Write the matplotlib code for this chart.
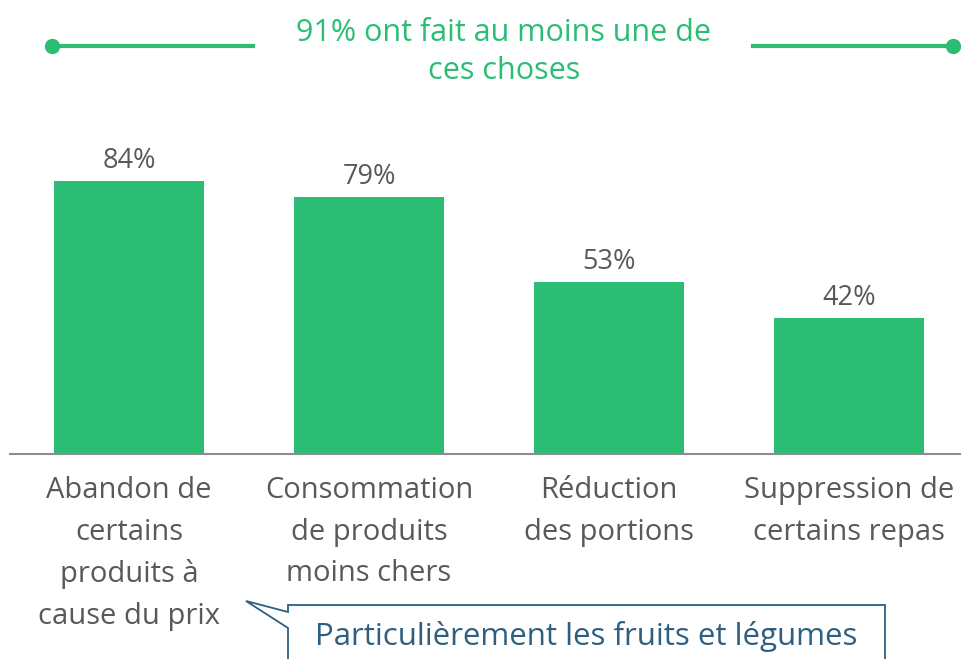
import matplotlib
matplotlib.use("Agg")
import matplotlib.pyplot as plt
from matplotlib.patches import Polygon

# Data
categories = ["Abandon de\ncertains\nproduits à\ncause du prix",
              "Consommation\nde produits\nmoins chers",
              "Réduction\ndes portions",
              "Suppression de\ncertains repas"]
values = [84, 79, 53, 42]
title = "91% ont fait au moins une de\nces choses"
callout = "Particulièrement les fruits et légumes"

green = "#2bbd74"
grey_text = "#595959"
blue = "#2f5f80"

plt.rcParams['font.family'] = ['Open Sans', 'DejaVu Sans']

W, H = 961, 659
fig = plt.figure(figsize=(W / 100, H / 100), dpi=100)


def fx(px):
    return px / W


def fy(py):
    return 1 - py / H


# bar axes: baseline at y=454px, value 100 at 129px
ax = fig.add_axes([fx(10), fy(454), fx(951), (454 - 129) / H])
x = list(range(len(values)))
ax.bar(x, values, width=0.625, color=green)
ax.set_xlim((10 - 129) / 240, (961 - 129) / 240)
ax.set_ylim(0, 100)
for xi, v in zip(x, values):
    ax.text(xi, v + 1.8, f"{v}%", ha="center", va="bottom", fontsize=19.5, color=grey_text)

ax.set_xticks(x)
ax.set_xticklabels(categories, fontsize=21, color=grey_text, linespacing=1.56)
ax.tick_params(axis="x", length=0, pad=16)
ax.set_yticks([])
for s in ["top", "left", "right"]:
    ax.spines[s].set_visible(False)
ax.spines["bottom"].set_color("#8c8c8c")
ax.spines["bottom"].set_linewidth(1.5)

# title with decorative lines
fig.text(fx(504), fy(52), title, ha="center", va="center", fontsize=22,
         color=green, linespacing=1.36)
fig.add_artist(plt.Line2D([fx(52), fx(253)], [fy(46), fy(46)], color=green, lw=3,
                          transform=fig.transFigure))
fig.add_artist(plt.Line2D([fx(753), fx(953)], [fy(46), fy(46)], color=green, lw=3,
                          transform=fig.transFigure))
fig.add_artist(plt.Line2D([fx(52), fx(953)], [fy(46), fy(46)], color=green, lw=0,
                          marker="o", markersize=10, transform=fig.transFigure))

# callout box
pts = [(288, 612), (246, 601), (288, 628), (288, 670), (885, 670), (885, 605), (288, 605)]
poly = Polygon([(fx(a), fy(b)) for a, b in pts], closed=True, facecolor="white",
               edgecolor=blue, lw=1.3, transform=fig.transFigure)
fig.add_artist(poly)
fig.text(fx(586), fy(636), callout, ha="center", va="center", fontsize=22.5, color=blue)

fig.savefig("out.png", dpi=100)
